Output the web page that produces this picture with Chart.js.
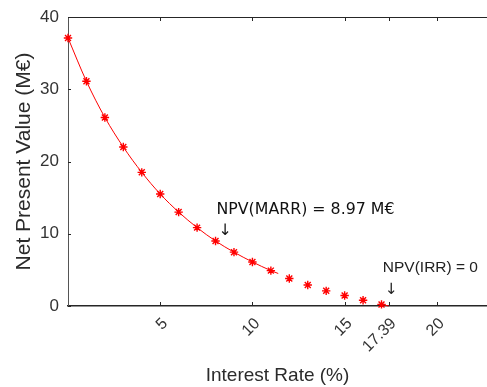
<!DOCTYPE html>
<html>
<head>
<meta charset="utf-8">
<script src="https://cdn.jsdelivr.net/npm/chart.js@4/dist/chart.umd.min.js"></script>
<style>
    html, body { margin: 0; padding: 0; background: #fff; overflow: hidden; }
    #wrap { width: 487px; height: 387px; position: relative; }
</style>
</head>
<body>
<div id="wrap"><canvas id="npvChart"></canvas></div>
<script>
// values
const rates = [0, 1, 2, 3, 4, 5, 6, 7, 8, 9, 10, 11, 12, 13, 14, 15, 16, 17];
const npv = [37.1, 31.1, 26.1, 22.0, 18.5, 15.5, 13.0, 10.85, 9.0, 7.45, 6.1, 4.9, 3.8, 2.9, 2.1, 1.45, 0.8, 0.22];

// the drawn curve stops a little after 11 %
const curveRates = [0, 1, 2, 3, 4, 5, 6, 7, 8, 9, 10, 11, 11.4];
const curveNpv = [37.1, 31.1, 26.1, 22.0, 18.5, 15.5, 13.0, 10.85, 9.0, 7.45, 6.1, 4.9, 4.5];

// short piece of line up to the IRR
const irrRates = [17, 17.39];
const irrNpv = [0.22, 0];

const xTickValues = [5, 10, 15, 17.39, 20];
const yTickValues = [0, 10, 20, 30, 40];

const marrText = 'NPV(MARR) = 8.97 M€';
const irrText = 'NPV(IRR) = 0';
const marrAt = { x: 8.05, y: 13.3 };
const irrAt = { x: 17.07, y: 5.26 };

const red = '#ff0000';
const axisColor = '#262626';
const sansFont = "'Liberation Sans', Arial, sans-serif";

const toXY = (xs, ys) => xs.map((x, i) => ({ x: x, y: ys[i] }));

// inward ticks, top frame line, rotated x labels and the two text notes
const framePlugin = {
    id: 'frame',
    afterDraw(chart) {
        const ctx = chart.ctx;
        const area = chart.chartArea;
        const xs = chart.scales.x;
        const ys = chart.scales.y;

        ctx.save();
        ctx.strokeStyle = axisColor;
        ctx.lineWidth = 1;
        ctx.beginPath();
        ctx.moveTo(area.left, area.top + 0.5);
        ctx.lineTo(area.right, area.top + 0.5);
        xTickValues.forEach(v => {
            const px = Math.round(xs.getPixelForValue(v)) + 0.5;
            ctx.moveTo(px, area.bottom);
            ctx.lineTo(px, area.bottom - 4);
            ctx.moveTo(px, area.top);
            ctx.lineTo(px, area.top + 4);
        });
        yTickValues.forEach(v => {
            const py = Math.round(ys.getPixelForValue(v)) + 0.5;
            ctx.moveTo(area.left, py);
            ctx.lineTo(area.left + 3, py);
        });
        ctx.stroke();

        // x tick labels, turned 45 degrees
        ctx.fillStyle = '#333';
        ctx.font = '16px ' + sansFont;
        ctx.textAlign = 'right';
        ctx.textBaseline = 'middle';
        xTickValues.forEach(v => {
            const px = xs.getPixelForValue(v);
            ctx.save();
            ctx.translate(px + 5, area.bottom + 15);
            ctx.rotate(-Math.PI / 4);
            ctx.fillText(String(v), 0, 0);
            ctx.restore();
        });

        ctx.fillStyle = '#111';
        ctx.textAlign = 'left';

        let px = xs.getPixelForValue(marrAt.x);
        let py = ys.getPixelForValue(marrAt.y);
        ctx.font = "15.8px 'DejaVu Sans', sans-serif";
        ctx.fillText(marrText, px, py);
        ctx.fillText('↓', px + 2, py + 21);

        px = xs.getPixelForValue(irrAt.x);
        py = ys.getPixelForValue(irrAt.y);
        ctx.fillStyle = '#222';
        ctx.font = '15.5px ' + sansFont;
        ctx.fillText(irrText, px, py);
        ctx.font = "15.5px 'DejaVu Sans', sans-serif";
        ctx.fillText('↓', px + 2, py + 22);
        ctx.restore();
    }
};

new Chart(document.getElementById('npvChart'), {
    type: 'line',
    data: {
        datasets: [
            {
                label: 'NPV',
                data: toXY(rates, npv),
                showLine: false,
                pointStyle: 'star',
                pointRadius: 4.2,
                pointBorderWidth: 1.4,
                pointBorderColor: red,
                pointBackgroundColor: red,
                clip: false
            },
            {
                label: 'curve',
                data: toXY(curveRates, curveNpv),
                borderColor: red,
                borderWidth: 1,
                pointRadius: 0,
                tension: 0.4,
                cubicInterpolationMode: 'monotone',
                clip: false
            },
            {
                label: 'irr',
                data: toXY(irrRates, irrNpv),
                borderColor: red,
                borderWidth: 1,
                pointRadius: 0,
                clip: false
            }
        ]
    },
    options: {
        responsive: true,
        maintainAspectRatio: false,
        animation: false,
        layout: { autoPadding: false, padding: { top: 17, right: 0, bottom: 0, left: 0 } },
        plugins: {
            legend: { display: false },
            tooltip: { enabled: false }
        },
        scales: {
            x: {
                type: 'linear',
                min: 0,
                max: 22.72,
                afterFit: s => { s.height = 81; s.paddingLeft = 0; s.paddingRight = 0; },
                afterBuildTicks: s => { s.ticks = xTickValues.map(v => ({ value: v })); },
                grid: { display: false, drawTicks: false },
                border: { display: true, color: axisColor, width: 1.5 },
                ticks: { display: false },
                title: {
                    display: true,
                    text: 'Interest Rate (%)',
                    color: '#2b2b2b',
                    font: { family: sansFont, size: 19 },
                    padding: { top: 0, bottom: 0 }
                }
            },
            y: {
                min: 0,
                max: 40,
                afterFit: s => { s.width = 68; s.paddingTop = 0; s.paddingBottom = 0; },
                afterBuildTicks: s => { s.ticks = yTickValues.map(v => ({ value: v })); },
                grid: { display: false, drawTicks: false },
                border: { display: true, color: '#555', width: 1 },
                ticks: {
                    padding: 9,
                    color: '#333',
                    font: { family: sansFont, size: 17 }
                },
                title: {
                    display: true,
                    text: 'Net Present Value (M€)',
                    color: '#2b2b2b',
                    font: { family: sansFont, size: 21 },
                    padding: { top: 12, bottom: 0 }
                }
            }
        }
    },
    plugins: [framePlugin]
});
</script>
</body>
</html>
